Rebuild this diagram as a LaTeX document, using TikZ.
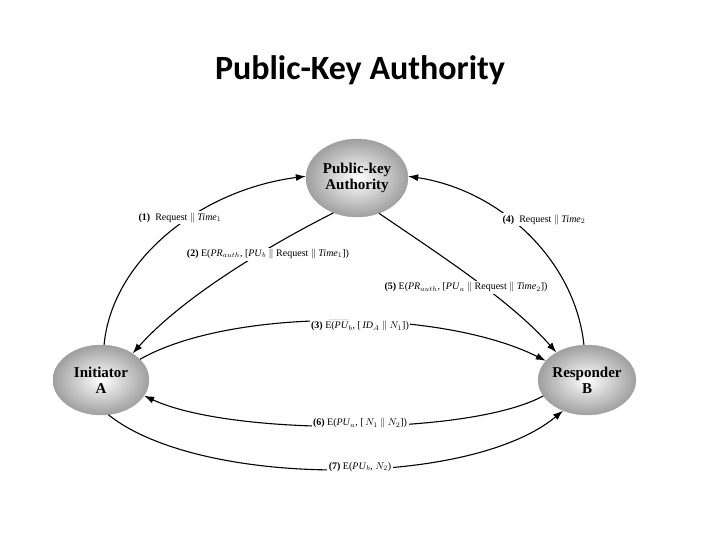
\documentclass[tikz,border=0pt]{standalone}
\usepackage{fontspec}
\setmainfont{Liberation Serif}
\newfontfamily\titlefont{Carlito}
\usetikzlibrary{arrows.meta,shapes.geometric,positioning}
\tikzset{
  party/.style = {ellipse, draw=gray!70, inner color=white, outer color=gray!75,
                  font=\bfseries\fontsize{15}{16}\selectfont, align=center,
                  minimum width=96pt, minimum height=70pt, inner sep=0pt},
  msg/.style   = {-{Latex[length=10pt,width=7pt]}, line width=1.1pt},
  lbl/.style   = {fill=white, inner sep=1.5pt, font=\fontsize{10}{11}\selectfont}
}
\begin{document}
\begin{tikzpicture}[x=1pt,y=-1pt]
\useasboundingbox (0,0) rectangle (720,540);

\node[font=\titlefont\bfseries\fontsize{34}{38}\selectfont] (title) at (360,70) {Public-Key Authority};

% the three parties
\node[party, minimum width=102pt, minimum height=78pt] (auth) at (357,178) {Public-key\\Authority};
\node[party] (ini) at (101,380) {Initiator\\A};
\node[party] (res) at (587,380) {Responder\\B};

% messages to and from the authority
\draw[msg] (ini.85) .. controls (112,260) and (200,190) .. (auth.178);
\node[lbl] (l1) at (180,218) {\textbf{(1)}\enspace Request $\|$ \textit{Time}$_1$};
\draw[msg] (auth.236) .. controls (260,250) and (180,300) .. (ini.40);
\node[lbl] (l2) at (268,254) {\textbf{(2)} E(\textit{PR}$_{auth}$, [\textit{PU}$_b$ $\|$ Request $\|$ \textit{Time}$_1$])};
\draw[msg] (res.95) .. controls (575,260) and (500,190) .. (auth.2);
\node[lbl] (l4) at (544,220) {\textbf{(4)}\enspace Request $\|$ \textit{Time}$_2$};
\draw[msg] (auth.302) .. controls (440,255) and (510,300) .. (res.138);
\node[lbl] (l5) at (466,287) {\textbf{(5)} E(\textit{PR}$_{auth}$, [\textit{PU}$_a$ $\|$ Request $\|$ \textit{Time}$_2$])};

% messages between A and B
\draw[msg] (ini.28) .. controls (230,308) and (440,308) .. (res.155);
\node[lbl] (l3) at (360,326) {\textbf{(3)} E(\textit{PU}$_b$, [\,\textit{ID}$_A$ $\|$ $N_1$])};
\draw[msg] (res.200) .. controls (470,436) and (230,436) .. (ini.-20);
\node[lbl] (l6) at (360,423) {\textbf{(6)} E(\textit{PU}$_a$, [\,$N_1$ $\|$ $N_2$])};
\draw[msg] (ini.-78) .. controls (200,488) and (470,488) .. (res.-128);
\node[lbl] (l7) at (360,467) {\textbf{(7)} E(\textit{PU}$_b$, $N_2$)};
\end{tikzpicture}
\end{document}
